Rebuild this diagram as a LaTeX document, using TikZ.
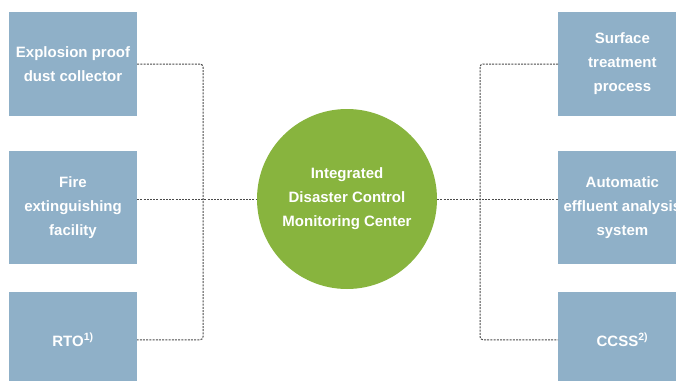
\documentclass[tikz,border=0pt]{standalone}
\usepackage{fontspec}
\setmainfont{Liberation Sans}
\usetikzlibrary{positioning}
\definecolor{boxblue}{HTML}{8FB0C8}
\definecolor{hubgreen}{HTML}{88B43E}
\definecolor{linkgray}{HTML}{4A4A4A}

\begin{document}
\begin{tikzpicture}[x=1pt, y=-1pt,
      box/.style={fill=boxblue, text=white, align=center, inner sep=0pt,
                  minimum width=128pt, font=\fontsize{15}{24}\selectfont\bfseries},
      hub/.style={circle, fill=hubgreen, text=white, align=center, inner sep=0pt,
                  minimum size=180pt, font=\fontsize{15}{24}\selectfont\bfseries},
      link/.style={draw=linkgray, line width=1pt, dash pattern=on 2pt off 1.2pt,
                   rounded corners=3pt}]
    \useasboundingbox (0,0) rectangle (676,380);
    \clip (0,0) rectangle (676,380);
    % left column
    \node[box, minimum height=104pt] (dust) at (73,64) {Explosion proof\\dust collector};
    \node[box, minimum height=113pt, below=35pt of dust] (fire) {Fire\\extinguishing\\facility};
    \node[box, minimum height=96pt, below=27pt of fire] (rto) {RTO\textsuperscript{1)}};
    % right column
    \node[box, minimum height=104pt, right=421pt of dust] (surf) {Surface\\treatment\\process};
    \node[box, minimum height=113pt, right=421pt of fire] (efflu) {Automatic\\effluent analysis\\system};
    \node[box, minimum height=96pt, right=421pt of rto] (ccss) {CCSS\textsuperscript{2)}};
    % centre
    \node[hub] (center) at (347,199) {Integrated\\Disaster Control\\Monitoring Center};
    \coordinate (jleft) at (203,199);
    \coordinate (jright) at (480,199);
    \draw[link] (dust.east) -| (jleft) |- (rto.east);
    \draw[link] (center.west -| fire.east) -- (center.west);
    \draw[link] (surf.west) -| (jright) |- (ccss.west);
    \draw[link] (center.east) -- (center.east -| efflu.west);
  \end{tikzpicture}
\end{document}
